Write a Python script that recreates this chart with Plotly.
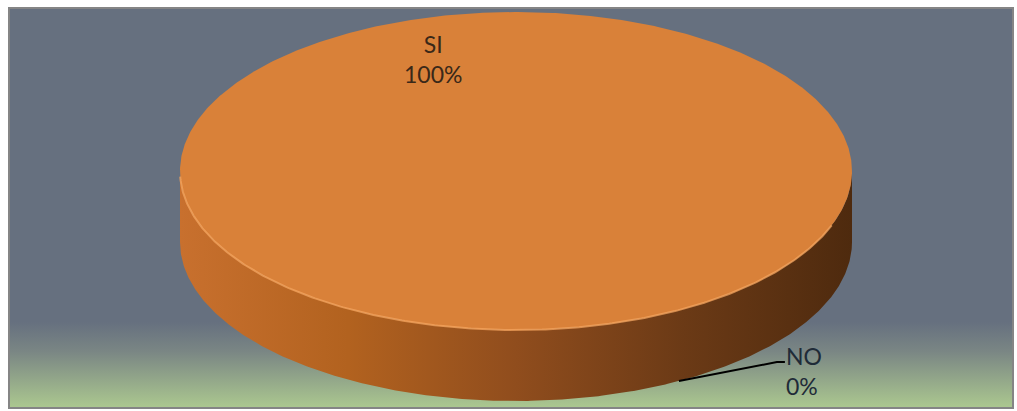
import numpy as np
import plotly.graph_objects as go

# ---- data ----
labels = ["SI", "NO"]
values = [100, 0]

# ---- layout geometry (pixels) ----
W, H = 1017, 411
cx, cy = 516, 171
rx, ry = 336, 159
depth = 71
start_deg = 61.0  # screen angle where first slice boundary sits

top_color = "#d98139"
bg_top = "#66707f"
bg_bottom = "#aac68f"

total = float(sum(values))
fracs = [v / total for v in values]

fig = go.Figure()

# background panel with vertical gradient
bx0, bx1, by0, by1 = 9, 1013, 8, 408
fig.add_trace(go.Scatter(
    x=[bx0, bx1, bx1, bx0, bx0], y=[by0, by0, by1, by1, by0],
    mode="lines", line=dict(width=0), fill="toself",
    fillgradient=dict(type="vertical", start=322, stop=406,
                      colorscale=[[0, bg_top], [0.35, "#7a8684"], [1, bg_bottom]]),
    hoverinfo="skip", showlegend=False))

# side (front half of the cylinder wall)
th = np.linspace(0, np.pi, 400)
sx = np.concatenate([cx + rx * np.cos(th), (cx + rx * np.cos(th))[::-1]])
sy = np.concatenate([cy + ry * np.sin(th), (cy + depth + ry * np.sin(th))[::-1]])
fig.add_trace(go.Scatter(
    x=np.append(sx, sx[0]), y=np.append(sy, sy[0]),
    mode="lines", line=dict(width=0), fill="toself",
    fillgradient=dict(type="horizontal", start=cx - rx, stop=cx + rx,
                      colorscale=[[0, "#c8702e"], [0.25, "#b2621f"], [0.5, "#904d1d"],
                                  [0.75, "#6b3a16"], [1, "#4e2a0e"]]),
    hoverinfo="skip", showlegend=False))

# top faces of slices
ang = np.deg2rad(start_deg)
slice_angles = []
for lab, f in zip(labels, fracs):
    a0, a1 = ang, ang + 2 * np.pi * f
    slice_angles.append((a0, a1))
    if f > 0:
        t = np.linspace(a0, a1, 720)
        px = cx + rx * np.cos(t)
        py = cy + ry * np.sin(t)
        if f < 1:
            px = np.concatenate([[cx], px, [cx]])
            py = np.concatenate([[cy], py, [cy]])
        fig.add_trace(go.Scatter(
            x=px, y=py, mode="lines", line=dict(width=0), fill="toself",
            fillcolor=top_color, hoverinfo="skip", showlegend=False, name=lab))
    ang = a1

# rim highlight on the front edge of the top face
tr = np.linspace(np.deg2rad(20), np.deg2rad(178), 300)
fig.add_trace(go.Scatter(
    x=cx + rx * np.cos(tr), y=cy + ry * np.sin(tr), mode="lines",
    line=dict(color="rgba(245,165,95,0.75)", width=2),
    hoverinfo="skip", showlegend=False))

# labels
annotations = []
font = dict(family="Lato, 'Open Sans', sans-serif", size=23)
for lab, f, (a0, a1) in zip(labels, fracs, slice_angles):
    txt = f"{lab}<br>{round(f * 100)}%"
    if f > 0:
        annotations.append(dict(x=433, y=59, text=txt, showarrow=False,
                                font=dict(color="#3a2818", **font),
                                xanchor="center", yanchor="middle", align="center"))
    else:
        ex = cx + rx * np.cos(a0)
        ey = cy + depth + ry * np.sin(a0)
        lx, ly = ex + 98, ey - 19
        fig.add_trace(go.Scatter(x=[ex, lx, lx + 8], y=[ey, ly, ly], mode="lines",
                                 line=dict(color="black", width=2),
                                 hoverinfo="skip", showlegend=False))
        annotations.append(dict(x=lx + 7, y=ly + 9, text=txt, showarrow=False,
                                font=dict(color="#1f2b38", **font),
                                xanchor="left", yanchor="middle", align="left"))

fig.update_layout(
    width=W, height=H, margin=dict(l=0, r=0, t=0, b=0),
    paper_bgcolor="white", plot_bgcolor="white",
    xaxis=dict(range=[0, W], visible=False, fixedrange=True),
    yaxis=dict(range=[H, 0], visible=False, fixedrange=True),
    annotations=annotations,
    shapes=[dict(type="rect", x0=bx0, x1=bx1, y0=by0, y1=by1,
                 line=dict(color="#858585", width=2), layer="above")],
)

fig.write_html("out.html")
